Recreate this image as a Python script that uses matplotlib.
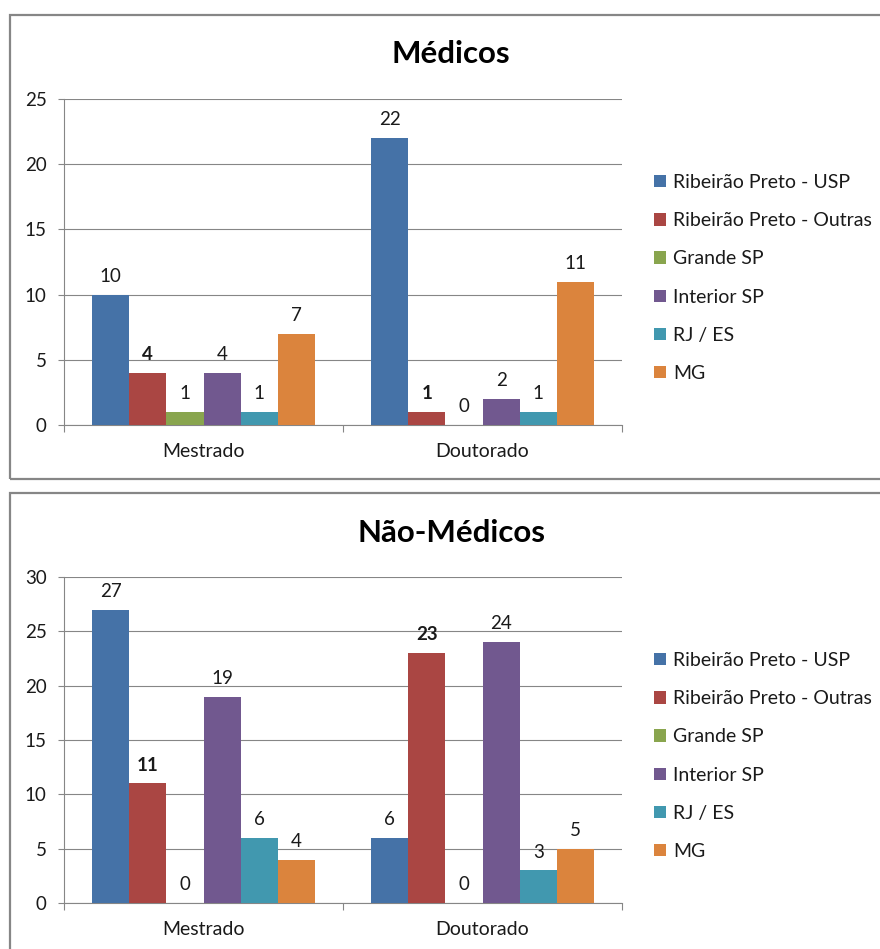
import matplotlib.pyplot as plt
from matplotlib.patches import Rectangle

plt.rcParams['font.family'] = ['Lato', 'DejaVu Sans']

categories = ['Mestrado', 'Doutorado']
regions = ['Ribeirão Preto - USP', 'Ribeirão Preto - Outras', 'Grande SP',
           'Interior SP', 'RJ / ES', 'MG']
colors = ['#4572A7', '#AA4643', '#89A54E', '#71588F', '#4198AF', '#DB843D']

medicos_mestrado = [10, 4, 1, 4, 1, 7]
medicos_doutorado = [22, 1, 0, 2, 1, 11]
nao_medicos_mestrado = [27, 11, 0, 19, 6, 4]
nao_medicos_doutorado = [6, 23, 0, 24, 3, 5]

GRID = '#868686'
TEXT = '#1a1a1a'
W, H = 880, 949


def _frame(fig, x0, y0, x1, y1):
    rect = Rectangle((x0 / W, 1 - y1 / H), (x1 - x0) / W, (y1 - y0) / H,
                     transform=fig.transFigure, fill=False,
                     edgecolor=GRID, linewidth=1.6)
    fig.patches.append(rect)


def _plot(fig, rect, title, title_y, legend_y, mestrado, doutorado, ymax):
    left, top, right, bottom = rect
    ax = fig.add_axes([left / W, 1 - bottom / H, (right - left) / W,
                       (bottom - top) / H])
    width = 0.8 / len(regions)
    handles = []
    for i, region in enumerate(regions):
        vals = [mestrado[i], doutorado[i]]
        xs = [c + (i - 2.5) * width for c in range(len(categories))]
        bars = ax.bar(xs, vals, width, color=colors[i], label=region,
                      zorder=3)
        handles.append(bars)
        for x, v in zip(xs, vals):
            ax.annotate(str(v), (x, v), xytext=(0, 7),
                        textcoords='offset points', ha='center', va='bottom',
                        fontsize=13.5, color=TEXT,
                        fontweight='bold' if i == 1 else 'normal')

    ax.set_xlim(-0.5, 1.5)
    ax.set_ylim(0, ymax)
    ax.set_yticks(range(0, ymax + 1, 5))
    ax.yaxis.grid(True, color=GRID, linewidth=0.8, zorder=0)
    ax.set_xticks(range(len(categories)))
    ax.set_xticklabels(categories)
    ax.set_xticks([-0.5, 0.5, 1.5], minor=True)
    ax.tick_params(axis='x', which='major', length=0, pad=13, labelsize=14,
                   labelcolor=TEXT)
    ax.tick_params(axis='x', which='minor', length=5, width=0.8,
                   color=GRID, direction='out')
    ax.tick_params(axis='y', length=4.5, width=0.8, color=GRID, pad=8,
                   labelsize=13.5, labelcolor=TEXT)
    for side in ('top', 'right'):
        ax.spines[side].set_visible(False)
    for side in ('left', 'bottom'):
        ax.spines[side].set_color(GRID)
        ax.spines[side].set_linewidth(0.8)

    fig.text(451 / W, 1 - title_y / H, title, ha='center', va='center',
             fontsize=22.5, fontweight='bold', color='black')

    fig.legend(handles=handles, loc='upper left',
               bbox_to_anchor=(654 / W, 1 - legend_y / H),
               bbox_transform=fig.transFigure, frameon=False, borderpad=0,
               borderaxespad=0, fontsize=14, handlelength=0.6,
               handleheight=0.6, handletextpad=0.4, labelspacing=1.09,
               labelcolor=TEXT)
    return ax


def plot_all(filename=None):
    fig = plt.figure(figsize=(W / 100, H / 100), dpi=100)
    _frame(fig, 10, 15, 900, 479)
    _frame(fig, 10, 493, 900, 980)

    _plot(fig, (64, 99, 622, 425), 'Médicos', 54, 174,
          medicos_mestrado, medicos_doutorado, 25)
    _plot(fig, (64, 577, 622, 903), 'Não-Médicos', 533, 652,
          nao_medicos_mestrado, nao_medicos_doutorado, 30)

    if filename:
        fig.savefig(filename, dpi=100)


if __name__ == '__main__':
    plot_all('out.png')
